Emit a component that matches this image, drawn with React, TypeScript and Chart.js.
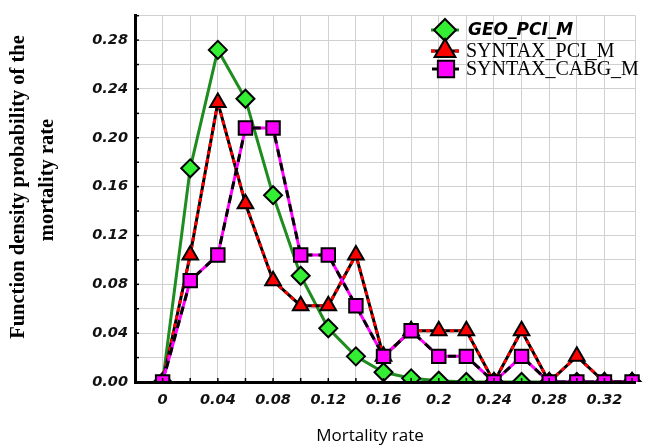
import React, { useEffect, useRef } from "react";
import { Chart, registerables } from "chart.js";

Chart.register(...registerables);

const mortalityRate = [0, 0.02, 0.04, 0.06, 0.08, 0.1, 0.12, 0.14, 0.16, 0.18, 0.2, 0.22, 0.24, 0.26, 0.28, 0.3, 0.32, 0.34];
const geoPciM = [0, 0.175, 0.272, 0.232, 0.153, 0.087, 0.044, 0.021, 0.008, 0.003, 0.001, 0, 0, 0, 0, 0, 0, 0];
const syntaxPciM = [0, 0.104, 0.229, 0.146, 0.083, 0.0625, 0.0625, 0.104, 0.021, 0.042, 0.042, 0.042, 0, 0.042, 0, 0.021, 0, 0];
const syntaxCabgM = [0, 0.083, 0.104, 0.208, 0.208, 0.104, 0.104, 0.0625, 0.021, 0.042, 0.021, 0.021, 0, 0.021, 0, 0, 0, 0];

const seriesNames = ["GEO_PCI_M", "SYNTAX_PCI_M", "SYNTAX_CABG_M"];
const yTickLabels = ["0.00", "0.04", "0.08", "0.12", "0.16", "0.20", "0.24", "0.28"];
const xTickLabels = ["0", "0.04", "0.08", "0.12", "0.16", "0.2", "0.24", "0.28", "0.32"];
const xTitle = "Mortality rate";
const yTitle = ["Function density probability of the", "mortality rate"];

const GREEN_LINE = "#1f8c1f";
const GREEN_FILL = "#33ee33";
const RED = "#ff0000";
const MAGENTA = "#ff00ff";

const pts = (ys: number[]) => ys.map((y, i) => ({ x: mortalityRate[i], y }));
const CLIP = { left: 2, top: 20, right: 12, bottom: 0 };

function drawMarker(ctx: CanvasRenderingContext2D, kind: string, x: number, y: number, r: number, fill: string) {
  ctx.save();
  ctx.beginPath();
  if (kind === "diamond") {
    ctx.moveTo(x, y - r);
    ctx.lineTo(x + r, y);
    ctx.lineTo(x, y + r);
    ctx.lineTo(x - r, y);
  } else if (kind === "triangle") {
    ctx.moveTo(x, y - r);
    ctx.lineTo(x + r * Math.sin((2 * Math.PI) / 3), y + r / 2);
    ctx.lineTo(x - r * Math.sin((2 * Math.PI) / 3), y + r / 2);
  } else {
    const h = r * Math.SQRT1_2;
    ctx.rect(x - h, y - h, 2 * h, 2 * h);
  }
  ctx.closePath();
  ctx.fillStyle = fill;
  ctx.fill();
  ctx.lineWidth = 2;
  ctx.strokeStyle = "#000";
  ctx.stroke();
  ctx.restore();
}

const decorPlugin = {
  id: "decor",
  afterDraw(chart: any) {
    const { ctx, chartArea, scales } = chart;
    const xs = scales.x;
    const ys = scales.y;
    // inner tick marks
    ctx.save();
    ctx.strokeStyle = "#000";
    ctx.lineWidth = 1.5;
    for (let i = 0; i < mortalityRate.length; i++) {
      const px = xs.getPixelForValue(mortalityRate[i]);
      ctx.beginPath();
      ctx.moveTo(px, chartArea.bottom);
      ctx.lineTo(px, chartArea.bottom - 4);
      ctx.stroke();
    }
    for (let v = 1; v <= 15; v++) {
      const py = ys.getPixelForValue(v * 0.02);
      ctx.beginPath();
      ctx.moveTo(chartArea.left, py);
      ctx.lineTo(chartArea.left + 4, py);
      ctx.stroke();
    }
    ctx.restore();

    // legend
    ctx.save();
    const lx = 445;
    const tx = 466;
    // GEO
    ctx.beginPath();
    ctx.strokeStyle = GREEN_LINE;
    ctx.lineWidth = 3;
    ctx.moveTo(lx - 14, 30);
    ctx.lineTo(lx + 14, 30);
    ctx.stroke();
    drawMarker(ctx, "diamond", lx, 30, 11, GREEN_FILL);
    ctx.fillStyle = "#000";
    ctx.textBaseline = "middle";
    ctx.textAlign = "left";
    ctx.font = "italic bold 17px 'DejaVu Sans'";
    ctx.fillText(seriesNames[0], tx + 2, 31);
    // SYNTAX_PCI
    ctx.beginPath();
    ctx.strokeStyle = "#000";
    ctx.lineWidth = 3;
    ctx.moveTo(lx - 14, 51);
    ctx.lineTo(lx + 14, 51);
    ctx.stroke();
    ctx.beginPath();
    ctx.setLineDash([4, 4]);
    ctx.strokeStyle = RED;
    ctx.moveTo(lx - 14, 51);
    ctx.lineTo(lx + 14, 51);
    ctx.stroke();
    ctx.setLineDash([]);
    drawMarker(ctx, "triangle", lx, 51, 12, RED);
    ctx.fillStyle = "#000";
    ctx.font = "20px 'Liberation Serif'";
    ctx.fillText(seriesNames[1], tx, 52);
    // SYNTAX_CABG
    ctx.beginPath();
    ctx.strokeStyle = "#000";
    ctx.lineWidth = 3;
    ctx.moveTo(lx - 13, 69);
    ctx.lineTo(lx + 14, 69);
    ctx.stroke();
    drawMarker(ctx, "rect", lx + 1, 69, 11.5, MAGENTA);
    ctx.fillStyle = "#000";
    ctx.fillText(seriesNames[2], tx, 70);
    ctx.restore();

    // axis titles
    ctx.save();
    ctx.fillStyle = "#000";
    ctx.textAlign = "center";
    ctx.textBaseline = "middle";
    ctx.font = "17px 'Open Sans'";
    ctx.fillText(xTitle, 370, 436);
    ctx.font = "bold 20.5px 'Liberation Serif'";
    ctx.translate(19, 187);
    ctx.rotate(-Math.PI / 2);
    ctx.fillText(yTitle[0], 0, 0);
    ctx.restore();
    ctx.save();
    ctx.fillStyle = "#000";
    ctx.textAlign = "center";
    ctx.textBaseline = "middle";
    ctx.font = "bold 20.5px 'Liberation Serif'";
    ctx.translate(48, 180);
    ctx.rotate(-Math.PI / 2);
    ctx.fillText(yTitle[1], 0, 0);
    ctx.restore();
  },
};

export default function App() {
  const ref = useRef<HTMLCanvasElement | null>(null);
  useEffect(() => {
    document.body.style.margin = "0";
    if (!ref.current) return;
    const tickFont = { family: "'DejaVu Sans'", size: 14.5, weight: "bold" as const, style: "italic" as const };
    const chart = new Chart(ref.current, {
      type: "line",
      data: {
        datasets: [
          {
            label: seriesNames[2],
            data: pts(syntaxCabgM),
            borderColor: "#000",
            borderWidth: 3,
            borderDash: [8, 6],
            pointStyle: "rect",
            pointRadius: 9.5,
            pointBackgroundColor: MAGENTA,
            pointBorderColor: "#000",
            pointBorderWidth: 2,
            clip: CLIP,
            order: 1,
          } as any,
          {
            label: "cabg-base",
            data: pts(syntaxCabgM),
            borderColor: MAGENTA,
            borderWidth: 3,
            pointRadius: 0,
            clip: CLIP,
            order: 2,
          },
          {
            label: seriesNames[1],
            data: pts(syntaxPciM),
            borderColor: RED,
            borderWidth: 3,
            borderDash: [4, 4],
            pointStyle: "triangle",
            pointRadius: 9,
            pointBackgroundColor: RED,
            pointBorderColor: "#000",
            pointBorderWidth: 2,
            clip: CLIP,
            order: 3,
          },
          {
            label: "pci-base",
            data: pts(syntaxPciM),
            borderColor: "#000",
            borderWidth: 3,
            pointRadius: 0,
            clip: CLIP,
            order: 4,
          },
          {
            label: seriesNames[0],
            data: pts(geoPciM),
            borderColor: GREEN_LINE,
            borderWidth: 3,
            pointStyle: "rectRot",
            pointRadius: 9,
            pointBackgroundColor: GREEN_FILL,
            pointBorderColor: "#000",
            pointBorderWidth: 2,
            clip: CLIP,
            order: 5,
          },
        ],
      },
      options: {
        animation: false,
        responsive: false,
        devicePixelRatio: 1,
        layout: { padding: { top: 10, left: 0, right: 0, bottom: 0 } },
        plugins: { legend: { display: false }, tooltip: { enabled: false } },
        elements: { line: { tension: 0 } },
        scales: {
          x: {
            type: "linear",
            min: -0.02,
            max: 0.3425,
            afterFit: (s: any) => {
              s.height = 64;
            },
            grid: { color: "#d0d0d0", lineWidth: 1, drawTicks: false },
            border: { display: true, color: "#000", width: 3, z: 1 },
            ticks: {
              stepSize: 0.02,
              padding: 10,
              color: "#111",
              font: tickFont,
              maxRotation: 0,
              autoSkip: false,
              callback: (v: any) => {
                const s = String(parseFloat(Number(v).toFixed(2)));
                return xTickLabels.includes(s) ? s : "";
              },
            },
          },
          y: {
            type: "linear",
            min: 0,
            max: 0.3,
            afterFit: (s: any) => {
              s.width = 135;
            },
            grid: { color: "#d0d0d0", lineWidth: 1, drawTicks: false },
            border: { display: true, color: "#000", width: 3, z: 1 },
            ticks: {
              stepSize: 0.02,
              padding: 7,
              color: "#111",
              font: tickFont,
              autoSkip: false,
              callback: (v: any) => {
                const s = Number(v).toFixed(2);
                return yTickLabels.includes(s) ? s : "";
              },
            },
          },
        },
      },
      plugins: [decorPlugin],
    });
    return () => chart.destroy();
  }, []);
  return (
    <div style={{ width: 647, height: 446, background: "#fff" }}>
      <canvas ref={ref} width={647} height={446} style={{ display: "block" }} />
    </div>
  );
}
